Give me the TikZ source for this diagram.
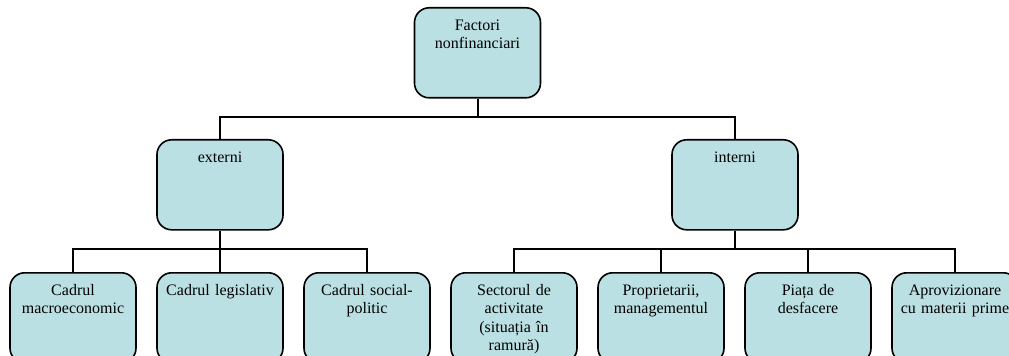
\documentclass[tikz,border=0pt]{standalone}
\usepackage{fontspec}
\setmainfont{Liberation Serif}
\usepackage{tikz}
\usetikzlibrary{positioning}
\definecolor{boxfill}{RGB}{187,224,227}

\begin{document}
\begin{tikzpicture}[x=0.75pt, y=-0.75pt,
    box/.style={draw, line width=1.2pt, rounded corners=11pt, fill=boxfill,
        anchor=north, align=center, text width=90pt, inner xsep=2.25pt,
        inner ysep=8pt, text height=9pt, text depth=42.5pt,
        font=\fontsize{12}{13.8}\selectfont},
    link/.style={line width=1.5pt}]
    \useasboundingbox (0,0) rectangle (1009,356);
    \clip (0,0) rectangle (1009,356);
    % top level
    \node[box] (fact) at (477.5, 7) {Factori\\nonfinanciari};
    % second level
    \node[box] (ext) at (220, 139) {externi};
    \node[box] (int) at (735, 139) {interni};
    % third level
    \node[box] (macro) at (73, 272) {Cadrul\\macroeconomic};
    \node[box] (legis) at (220, 272) {Cadrul legislativ};
    \node[box] (social) at (367, 272) {Cadrul social-\\politic};
    \node[box] (sector) at (514, 272) {Sectorul de\\activitate\\(situația în\\ramură)};
    \node[box] (propr) at (661, 272) {Proprietarii,\\managementul};
    \node[box] (piata) at (808, 272) {Piața de\\desfacere};
    \node[box] (aprov) at (955, 272) {Aprovizionare\\cu materii prime};
    % bus lines
    \coordinate (bustop) at (477.5, 117);
    \coordinate (busext) at (220, 249);
    \coordinate (busint) at (735, 249);
    \draw[link] (fact.south) -- (bustop);
    \draw[link] (ext.north) |- (bustop) -| (int.north);
    \draw[link] (ext.south) -- (busext);
    \draw[link] (macro.north) |- (busext) -| (social.north);
    \draw[link] (legis.north) -- (busext);
    \draw[link] (int.south) -- (busint);
    \draw[link] (sector.north) |- (busint) -| (aprov.north);
    \draw[link] (propr.north) -- (propr.north |- busint);
    \draw[link] (piata.north) -- (piata.north |- busint);
\end{tikzpicture}
\end{document}
